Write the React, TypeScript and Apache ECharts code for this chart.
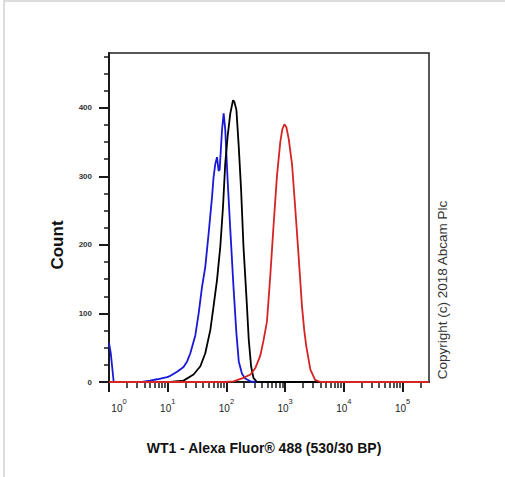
import React, { useEffect, useRef } from "react";
import * as echarts from "echarts";

// x values are log10 of fluorescence intensity (axis shown as decades 10^0..10^5)
const decades = [0, 1, 2, 3, 4, 5];
const xMax = 5.45;
const yMajor = [0, 100, 200, 300, 400];
const yMax = 480;

const blueLog = [0, 0.03, 0.08, 0.56, 0.7, 0.82, 0.99, 1.045, 1.16, 1.27, 1.33, 1.385, 1.47, 1.527, 1.585, 1.64, 1.697, 1.755, 1.78, 1.81, 1.84, 1.867, 1.885, 1.925, 1.953, 1.98, 2.02, 2.066, 2.12, 2.17, 2.21, 2.265, 2.32, 2.41, 2.51, 5.45];
const blueCount = [57, 42, 0, 0, 2, 4, 7, 9, 15, 22, 30, 42, 68, 100, 139, 168, 217, 270, 298, 318, 328, 308, 310, 368, 392, 368, 295, 222, 139, 71, 30, 12, 5, 1, 0, 0];

const blackLog = [0, 1.045, 1.27, 1.44, 1.556, 1.64, 1.726, 1.78, 1.84, 1.896, 1.942, 1.98, 2.02, 2.066, 2.112, 2.134, 2.17, 2.21, 2.25, 2.29, 2.34, 2.38, 2.42, 2.46, 2.52, 5.45];
const blackCount = [0, 0, 2, 11, 23, 42, 76, 110, 149, 198, 256, 319, 358, 392, 411, 409, 397, 343, 280, 198, 125, 62, 23, 6, 0, 0];

const redLog = [0, 1.98, 2.12, 2.29, 2.41, 2.49, 2.575, 2.63, 2.69, 2.747, 2.8, 2.86, 2.917, 2.95, 2.986, 3.02, 3.06, 3.117, 3.17, 3.23, 3.287, 3.326, 3.36, 3.43, 3.51, 3.6, 5.45];
const redCount = [0, 0, 1, 6, 11, 20, 38, 60, 88, 155, 225, 300, 350, 368, 376, 372, 355, 318, 256, 183, 110, 75, 52, 18, 3, 0, 0];

const xTitle = "WT1 - Alexa Fluor® 488 (530/30 BP)";
const yTitle = "Count";
const copyright = "Copyright (c) 2018 Abcam Plc";

const FONT = 'Arial, "Liberation Sans", Helvetica, sans-serif';

export default function App() {
  const ref = useRef<HTMLDivElement>(null);
  useEffect(() => {
    const chart = echarts.init(ref.current!, null, { renderer: "svg" });
    const minorX: number[] = [];
    decades.forEach((d) => {
      for (let k = 2; k <= 9; k++) {
        const v = d + Math.log10(k);
        if (v < xMax) minorX.push(v);
      }
    });
    const minorY: number[] = [];
    for (let v = 0; v <= yMax; v += 25) if (v % 100 !== 0) minorY.push(v);
    const zip = (xs: number[], ys: number[]) => xs.map((x, i) => [x, ys[i]]);
    const axisColor = "#1a1a1a";

    chart.setOption({
      animation: false,
      backgroundColor: "#ffffff",
      grid: {
        left: 109,
        top: 53,
        width: 320,
        height: 329,
        show: true,
        borderColor: "#222",
        borderWidth: 1.5,
        containLabel: false,
      },
      xAxis: [
        {
          type: "value",
          min: 0,
          max: xMax,
          position: "bottom",
          axisLine: { show: true, lineStyle: { color: axisColor, width: 2 } },
          axisTick: { show: true, customValues: decades, length: 10, lineStyle: { color: axisColor, width: 2 } },
          axisLabel: {
            customValues: decades,
            margin: 15,
            formatter: (v: number) => (Math.round(v) === 0 ? `{b0|10}{s|0}` : `{b|10}{s|${Math.round(v)}}`),
            rich: {
              b: { fontSize: 10, fontFamily: FONT, color: "#222", lineHeight: 16, verticalAlign: "bottom" },
              b0: { fontSize: 10, fontFamily: FONT, color: "#222", lineHeight: 16, verticalAlign: "bottom", padding: [0, 0, 0, 20] },
              s: { fontSize: 7.5, fontFamily: FONT, color: "#222", lineHeight: 16, verticalAlign: "top" },
            },
          },
          splitLine: { show: false },
        },
        {
          type: "value",
          min: 0,
          max: xMax,
          position: "bottom",
          axisLine: { show: false },
          axisTick: { show: true, customValues: minorX, length: 6, lineStyle: { color: axisColor, width: 1.5 } },
          axisLabel: { show: false },
          splitLine: { show: false },
        },
      ],
      yAxis: [
        {
          type: "value",
          min: 0,
          max: yMax,
          position: "left",
          axisLine: { show: true, lineStyle: { color: axisColor, width: 2 } },
          axisTick: { show: true, customValues: yMajor, length: 10, lineStyle: { color: axisColor, width: 2 } },
          axisLabel: {
            customValues: yMajor,
            margin: 17,
            fontSize: 8,
            fontWeight: "bold",
            fontFamily: FONT,
            color: "#333",
          },
          splitLine: { show: false },
        },
        {
          type: "value",
          min: 0,
          max: yMax,
          position: "left",
          axisLine: { show: false },
          axisTick: { show: true, customValues: minorY, length: 5, lineStyle: { color: axisColor, width: 1.5 } },
          axisLabel: { show: false },
          splitLine: { show: false },
        },
      ],
      series: [
        {
          type: "line",
          data: zip(blueLog, blueCount),
          showSymbol: false,
          lineStyle: { color: "#1818d6", width: 1.8 },
          z: 3,
        },
        {
          type: "line",
          data: zip(blackLog, blackCount),
          showSymbol: false,
          lineStyle: { color: "#000000", width: 1.8 },
          z: 4,
        },
        {
          type: "line",
          data: zip(redLog, redCount),
          showSymbol: false,
          lineStyle: { color: "#d42424", width: 1.8 },
          z: 5,
        },
      ],
      graphic: [
        { type: "line", shape: { x1: 4, y1: 0, x2: 4, y2: 477 }, style: { stroke: "#dcdcdc", lineWidth: 2 } },
        { type: "line", shape: { x1: 3, y1: 1, x2: 505, y2: 1 }, style: { stroke: "#dcdcdc", lineWidth: 2 } },
        {
          type: "text",
          x: 264,
          y: 448,
          style: { text: xTitle, font: `bold 14px ${FONT}`, fill: "#111", align: "center", verticalAlign: "middle" },
        },
        {
          type: "text",
          x: 57,
          y: 245,
          rotation: Math.PI / 2,
          style: { text: yTitle, font: `bold 17px ${FONT}`, fill: "#111", align: "center", verticalAlign: "middle" },
        },
        {
          type: "text",
          x: 442,
          y: 290,
          rotation: Math.PI / 2,
          style: { text: copyright, font: `13.5px ${FONT}`, fill: "#333", align: "center", verticalAlign: "middle" },
        },
      ],
    });
    return () => chart.dispose();
  }, []);
  return <div ref={ref} style={{ position: "fixed", left: 0, top: 0, width: 505, height: 477 }} />;
}
